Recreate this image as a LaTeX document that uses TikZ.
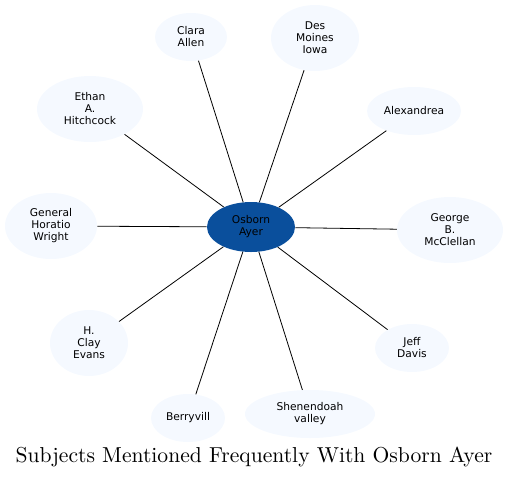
\documentclass[tikz,border=0pt]{standalone}
\usepackage{fontspec}
\usetikzlibrary{shapes.geometric}
\newfontfamily\nodefont{DejaVu Sans}
\newfontfamily\titlefont{lmroman10-regular.otf}
\definecolor{leaf}{RGB}{245,249,255}
\definecolor{hub}{RGB}{10,79,156}
\begin{document}
\begin{tikzpicture}[x=0.75pt,y=-0.75pt,
  leafnode/.style={ellipse, fill=leaf, inner sep=0pt, font=\nodefont\fontsize{8}{9}\selectfont, align=center},
  hubnode/.style={ellipse, fill=hub, inner sep=0pt, font=\nodefont\fontsize{8}{9}\selectfont, align=center},
  link/.style={draw=black, line width=0.6pt}]
\useasboundingbox (0,0) rectangle (509,479);
\node[hubnode, minimum width=66pt, minimum height=37.5pt] (hub) at (251,227) {Osborn\\Ayer};
\node[leafnode, minimum width=54pt, minimum height=36pt] (clara) at (191,37) {Clara\\Allen};
\node[leafnode, minimum width=66pt, minimum height=49.5pt] (des) at (315,38) {Des\\Moines\\Iowa};
\node[leafnode, minimum width=70.5pt, minimum height=36pt] (alex) at (414,111) {Alexandrea};
\node[leafnode, minimum width=79.5pt, minimum height=49.5pt] (ethan) at (90,109) {Ethan\\A.\\Hitchcock};
\node[leafnode, minimum width=69pt, minimum height=49.5pt] (gen) at (51,226) {General\\Horatio\\Wright};
\node[leafnode, minimum width=79.5pt, minimum height=49.5pt] (george) at (450,230) {George\\B.\\McClellan};
\node[leafnode, minimum width=58.5pt, minimum height=49.5pt] (clay) at (89,343) {H.\\Clay\\Evans};
\node[leafnode, minimum width=55.5pt, minimum height=36pt] (jeff) at (412,348) {Jeff\\Davis};
\node[leafnode, minimum width=55.5pt, minimum height=36pt] (berry) at (188,418) {Berryvill};
\node[leafnode, minimum width=97.5pt, minimum height=36pt] (shen) at (310,414) {Shenendoah\\valley};
\node[font=\titlefont\fontsize{16.2}{19}\selectfont] (title) at (254,457) {Subjects Mentioned Frequently With Osborn Ayer};
\foreach \n in {clara,des,alex,ethan,gen,george,clay,jeff,berry,shen}
  \draw[link] (hub) -- (\n);
\end{tikzpicture}
\end{document}
